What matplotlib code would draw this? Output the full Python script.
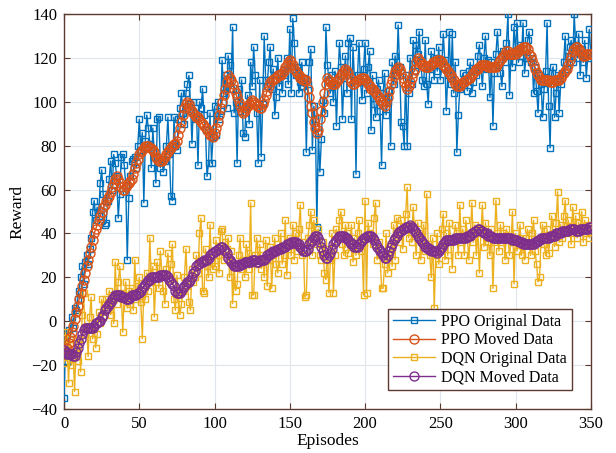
import numpy as np
import matplotlib
matplotlib.use("Agg")
import matplotlib.pyplot as plt

ppo_original = [
    -35, -5, -18, -4, -8, 2, -3, 6, 5, 10,
    14, 20, 25, 17, 27, 30, 26, 33, 38, 50,
    55, 46, 52, 48, 63, 69, 58, 44, 45, 55,
    65, 73, 60, 76, 72, 66, 47, 58, 75, 76,
    71, 62, 28, 56, 66, 73, 74, 75, 70, 80,
    92, 78, 86, 54, 82, 94, 88, 81, 70, 88,
    75, 63, 92, 93, 70, 74, 68, 73, 80, 93,
    76, 57, 55, 93, 80, 78, 92, 97, 104, 95,
    90, 104, 108, 112, 99, 81, 100, 92, 95, 71,
    100, 97, 106, 94, 87, 66, 72, 95, 72, 84,
    98, 85, 100, 92, 96, 119, 104, 112, 97, 121,
    117, 106, 134, 95, 100, 72, 106, 96, 110, 86,
    84, 98, 103, 90, 118, 107, 125, 112, 95, 72,
    110, 75, 99, 130, 110, 107, 118, 125, 106, 115,
    94, 102, 120, 107, 113, 104, 115, 112, 120, 108,
    133, 104, 138, 127, 112, 116, 104, 109, 118, 107,
    111, 77, 108, 118, 124, 78, 98, 92, 43, 86,
    68, 83, 101, 95, 134, 117, 110, 104, 112, 100,
    114, 89, 110, 127, 116, 92, 111, 121, 104, 127,
    129, 92, 125, 110, 67, 112, 127, 109, 101, 115,
    127, 104, 116, 123, 87, 112, 99, 93, 106, 110,
    96, 71, 104, 113, 94, 100, 105, 80, 118, 108,
    121, 112, 135, 116, 91, 89, 80, 112, 80, 104,
    120, 108, 128, 114, 126, 122, 132, 118, 110, 107,
    128, 108, 99, 115, 123, 117, 110, 120, 114, 125,
    110, 116, 131, 119, 96, 112, 132, 108, 131, 104,
    118, 77, 94, 106, 107, 113, 110, 112, 105, 114,
    118, 104, 109, 115, 112, 121, 126, 116, 107, 120,
    130, 115, 119, 102, 118, 89, 113, 122, 132, 117,
    113, 107, 123, 118, 127, 140, 103, 121, 116, 134,
    123, 136, 118, 126, 121, 136, 113, 120, 128, 132,
    118, 120, 104, 116, 105, 95, 112, 108, 93, 106,
    114, 136, 98, 79, 113, 116, 93, 104, 112, 95,
    108, 113, 118, 130, 115, 121, 125, 128, 118, 140,
    126, 120, 131, 112, 124, 118, 128, 111, 120, 133,
    122,
]

ppo_moved = [
    -15, -14, -12, -10, -7, -5, -2, 1, 4, 7,
    10, 13, 16, 19, 22, 25, 28, 31, 34, 37,
    40, 42, 44, 46, 48, 50, 52, 53, 55, 56,
    57, 59, 61, 63, 65, 66, 65, 63, 61, 60,
    60, 61, 62, 63, 64, 65, 67, 70, 72, 74,
    76, 77, 78, 79, 80, 80, 80, 79, 79, 78,
    77, 75, 74, 73, 73, 73, 74, 75, 76, 77,
    78, 79, 80, 81, 81, 82, 85, 88, 91, 94,
    97, 99, 100, 99, 97, 96, 95, 94, 93, 93,
    92, 91, 90, 89, 88, 87, 86, 85, 85, 84,
    86, 88, 91, 94, 97, 100, 103, 106, 109, 112,
    111, 110, 108, 106, 104, 102, 100, 98, 96, 95,
    96, 97, 98, 99, 100, 101, 100, 99, 98, 98,
    97, 97, 99, 101, 103, 105, 107, 109, 110, 110,
    111, 111, 112, 112, 112, 113, 114, 116, 117, 118,
    119, 118, 117, 115, 114, 113, 112, 111, 111, 110,
    110, 110, 106, 102, 98, 95, 91, 88, 86, 87,
    92, 96, 100, 104, 108, 111, 110, 109, 108, 108,
    108, 109, 110, 111, 112, 113, 114, 115, 114, 113,
    111, 109, 108, 108, 109, 110, 110, 111, 111, 111,
    110, 109, 108, 107, 106, 106, 105, 104, 103, 102,
    101, 100, 99, 98, 100, 102, 105, 108, 110, 112,
    114, 115, 116, 115, 113, 111, 109, 107, 106, 107,
    109, 111, 113, 115, 118, 120, 119, 118, 117, 117,
    116, 116, 116, 117, 117, 118, 118, 118, 119, 119,
    119, 118, 117, 116, 115, 114, 113, 112, 111, 110,
    108, 107, 107, 107, 108, 109, 109, 110, 110, 111,
    111, 112, 113, 114, 115, 115, 116, 117, 117, 117,
    117, 117, 116, 116, 116, 116, 116, 116, 117, 118,
    119, 120, 121, 122, 123, 123, 122, 122, 122, 122,
    122, 123, 123, 124, 124, 125, 125, 125, 124, 122,
    121, 119, 117, 115, 113, 112, 111, 110, 110, 110,
    110, 110, 110, 109, 109, 109, 110, 110, 110, 110,
    111, 112, 113, 114, 115, 117, 119, 121, 123, 124,
    125, 125, 124, 123, 122, 121, 121, 122, 122, 122,
    122,
]

dqn_original = [
    -19, -5, -12, -28, -8, -20, -14, -32, -10, -18,
    -8, -23, 3, 13, -6, -2, -16, 2, 11, -8,
    -2, -12, -6, 4, -1, 10, 2, 8, 10, 5,
    14, 3, 12, -1, 27, 8, 18, 25, 13, -5,
    12, 18, 6, 14, 8, 15, 5, 28, 10, 16,
    20, 9, -8, 14, 10, 22, 14, 38, 18, 25,
    2, 20, 27, 15, 32, 22, 14, 8, 24, 31,
    19, 26, 35, 10, 5, 21, 12, 3, 8, 14,
    20, 33, 16, 9, 5, 24, 18, 20, 30, 22,
    40, 47, 14, 13, 33, 25, 20, 44, 27, 24,
    25, 37, 30, 22, 41, 42, 28, 36, 33, 38,
    20, 32, 8, 26, 14, 17, 30, 38, 24, 28,
    20, 35, 31, 24, 54, 12, 12, 30, 38, 26,
    35, 24, 30, 20, 37, 16, 28, 34, 15, 30,
    38, 26, 22, 33, 40, 26, 30, 46, 21, 36,
    38, 30, 44, 28, 40, 32, 42, 53, 30, 36,
    11, 12, 38, 44, 50, 30, 46, 40, 35, 42,
    30, 28, 36, 22, 19, 33, 13, 28, 40, 13,
    30, 42, 38, 46, 50, 35, 30, 44, 40, 31,
    35, 44, 27, 38, 30, 40, 46, 32, 36, 12,
    55, 13, 45, 40, 38, 35, 47, 54, 28, 36,
    30, 15, 15, 26, 40, 22, 30, 35, 25, 44,
    28, 47, 40, 36, 46, 33, 42, 49, 61, 38,
    44, 36, 52, 40, 30, 45, 40, 28, 37, 44,
    32, 58, 35, 30, 20, 38, 6, 30, 40, 26,
    34, 42, 49, 28, 40, 30, 45, 36, 24, 38,
    44, 40, 30, 53, 36, 42, 30, 46, 38, 28,
    40, 54, 36, 44, 30, 42, 22, 40, 53, 34,
    45, 38, 36, 30, 42, 15, 36, 55, 40, 32,
    44, 36, 40, 28, 42, 38, 30, 36, 50, 17,
    40, 32, 38, 44, 30, 36, 28, 38, 42, 35,
    30, 40, 46, 32, 26, 18, 20, 38, 44, 35,
    30, 42, 31, 38, 48, 40, 34, 45, 59, 36,
    44, 38, 48, 55, 40, 46, 42, 35, 52, 40,
    48, 38, 45, 42, 50, 36, 46, 40, 44, 38,
    42,
]

dqn_moved = [
    -13, -14, -15, -15, -15, -15, -16, -16, -14, -12,
    -10, -8, -6, -4, -3, -3, -3, -3, -3, -3,
    -2, -1, -1, 0, 0, 2, 3, 5, 6, 7,
    8, 9, 10, 11, 12, 12, 12, 12, 11, 11,
    11, 10, 10, 10, 11, 12, 12, 12, 12, 13,
    13, 14, 15, 16, 17, 18, 19, 19, 20, 20,
    20, 20, 20, 20, 21, 21, 21, 21, 21, 20,
    19, 18, 17, 16, 14, 13, 13, 13, 14, 15,
    16, 17, 18, 18, 19, 20, 22, 23, 25, 26,
    26, 27, 27, 28, 28, 28, 29, 30, 31, 31,
    32, 32, 33, 33, 34, 34, 33, 32, 31, 29,
    28, 27, 26, 25, 25, 25, 25, 26, 26, 26,
    27, 27, 27, 27, 27, 28, 28, 28, 27, 27,
    28, 28, 28, 28, 29, 30, 30, 31, 31, 32,
    32, 32, 33, 33, 33, 34, 34, 34, 35, 35,
    35, 36, 36, 36, 36, 35, 35, 34, 33, 32,
    32, 32, 33, 35, 36, 37, 38, 39, 39, 38,
    36, 34, 32, 30, 29, 29, 30, 31, 33, 35,
    36, 37, 38, 39, 39, 39, 39, 38, 38, 37,
    36, 35, 35, 34, 34, 34, 35, 36, 37, 38,
    38, 39, 39, 39, 39, 38, 37, 35, 34, 33,
    32, 31, 30, 29, 29, 30, 32, 34, 35, 37,
    38, 39, 40, 41, 41, 42, 42, 43, 43, 43,
    44, 43, 42, 41, 40, 39, 38, 37, 36, 35,
    34, 34, 33, 33, 32, 32, 32, 32, 31, 32,
    33, 34, 35, 36, 37, 37, 37, 37, 37, 37,
    38, 38, 38, 38, 38, 38, 38, 38, 39, 39,
    39, 40, 40, 41, 41, 42, 42, 41, 41, 40,
    40, 40, 39, 39, 39, 38, 38, 38, 38, 38,
    38, 38, 38, 38, 38, 38, 38, 38, 37, 37,
    37, 37, 36, 36, 36, 35, 35, 35, 35, 35,
    35, 35, 35, 36, 36, 37, 37, 38, 38, 38,
    38, 38, 38, 39, 39, 39, 39, 40, 40, 40,
    40, 41, 41, 41, 41, 41, 42, 42, 42, 42,
    41, 41, 41, 42, 42, 42, 42, 42, 42, 43,
    43,
]

labels = ["PPO Original Data", "PPO Moved Data", "DQN Original Data", "DQN Moved Data"]
x_ticks = [0, 50, 100, 150, 200, 250, 300, 350]
y_ticks = [-40, -20, 0, 20, 40, 60, 80, 100, 120, 140]

c_blue = "#0072BD"
c_orange = "#D95319"
c_yellow = "#EDB120"
c_purple = "#7E2F8E"

plt.rcParams["font.family"] = ["Liberation Serif", "DejaVu Serif"]

fig = plt.figure(figsize=(6.16, 4.53), dpi=100)
ax = fig.add_axes([0.104, 0.097, 0.855, 0.872])

ax.plot(np.arange(len(ppo_original)), ppo_original, color=c_blue, lw=1.0,
        marker="s", ms=4.5, mfc="none", mew=1.0, label=labels[0], zorder=3)
ax.plot(np.arange(len(ppo_moved)), ppo_moved, color=c_orange, lw=1.0,
        marker="o", ms=6.5, mfc="none", mew=1.0, label=labels[1], zorder=4)
ax.plot(np.arange(len(dqn_original)), dqn_original, color=c_yellow, lw=1.0,
        marker="s", ms=4.5, mfc="none", mew=1.0, label=labels[2], zorder=3)
ax.plot(np.arange(len(dqn_moved)), dqn_moved, color=c_purple, lw=1.0,
        marker="o", ms=6.5, mfc="none", mew=1.0, label=labels[3], zorder=4)

ax.set_xlim(0, 350)
ax.set_ylim(-40, 140)
ax.set_xticks(x_ticks)
ax.set_yticks(y_ticks)
ax.grid(True, color="#dfe5ec", lw=0.8)
ax.set_axisbelow(True)
frame_c = "#5c3a30"
for s in ax.spines.values():
    s.set_color(frame_c)
    s.set_linewidth(1.0)
ax.tick_params(direction="in", top=True, right=True, length=4, width=0.8,
               color=frame_c, labelsize=12, labelcolor="black", pad=5)
ax.set_xlabel("Episodes", fontsize=12.5, labelpad=1)
ax.set_ylabel("Reward", fontsize=12.5, labelpad=4)

leg = ax.legend(loc="lower right", fontsize=11.5, fancybox=False, framealpha=1,
                edgecolor=frame_c, handlelength=2.6, borderpad=0.3,
                labelspacing=0.15, handletextpad=0.4, borderaxespad=1.2)
leg.get_frame().set_linewidth(1.0)

fig.savefig("out.png", dpi=100)
